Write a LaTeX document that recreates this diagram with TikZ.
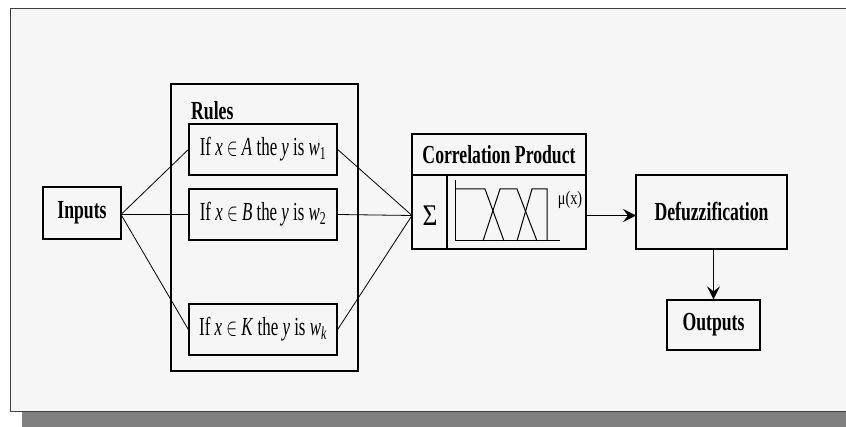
\documentclass[tikz,border=0pt]{standalone}
\usepackage{fontspec}
\setmainfont{Liberation Serif}
\usetikzlibrary{arrows.meta}
\newcommand\blab[1]{\scalebox{0.68}[1]{\fontsize{26}{30}\selectfont\bfseries #1}}
\newcommand\rlab[3]{\scalebox{0.65}[1]{\fontsize{26}{30}\selectfont If \textit{x} $\in$ \textit{#1} the \textit{y} is \textit{w}\textsubscript{#2}#3}}
\begin{document}
\begin{tikzpicture}[x=1pt,y=-1pt,
  box/.style={draw=black, line width=1.3pt, inner sep=0pt, anchor=center},
  conn/.style={draw=black, line width=0.8pt},
  arr/.style={draw=black, line width=1.3pt, -{Stealth[length=13pt,width=13pt,inset=5pt]}},
  mf/.style={draw=black, line width=1pt}]
\useasboundingbox (0,0) rectangle (846,427);
% frame and shadow
\fill[gray] (22,412) rectangle (850,427);
\draw[draw=black!75, line width=1pt, fill=gray!7] (10,9) rectangle (860,412);
% nodes
\node[box, minimum width=78pt, minimum height=52pt] (inputs) at (82,213) {\blab{Inputs}};
\node[box, minimum width=187pt, minimum height=287pt] (rules) at (264.5,227.5) {};
\node[anchor=west, inner sep=0pt] (ruleslab) at (191,111) {\blab{Rules}};
\node[box, minimum width=148pt, minimum height=51pt] (ra) at (263,149.5) {\rlab{A}{1}{}};
\node[box, minimum width=148pt, minimum height=51pt] (rb) at (263,214.5) {\rlab{B}{2}{}};
\node[box, minimum width=148pt, minimum height=51pt] (rk) at (263,329.5) {\rlab{K}{\textit{k}}{}};
\node[box, minimum width=174pt, minimum height=115pt] (corr) at (499,191.5) {};
\node[inner sep=0pt] (corrlab) at (499,155) {\blab{Correlation Product}};
\draw[line width=1.3pt] (corr.west |- 0,175) -- (corr.east |- 0,175);
\draw[line width=1.3pt] (447,175) -- (447,249);
\node[inner sep=0pt] (sigma) at (430,216) {\scalebox{0.85}[1]{\fontsize{30}{34}\selectfont Σ}};
\node[inner sep=0pt] (mu) at (570,200) {\scalebox{0.75}[1]{\fontsize{19}{22}\selectfont μ(x)}};
% membership functions
\draw[mf] (455,180) -- (455,241) -- (560,241);
\draw[mf] (455,189) -- (485,189) -- (504,241);
\draw[mf] (483,241) -- (500,189) -- (517,189) -- (537,241);
\draw[mf] (517,241) -- (532,189) -- (547,189) -- (547,241);
\node[box, minimum width=151pt, minimum height=74pt] (defuzz) at (711.5,212) {\blab{Defuzzification}};
\node[box, minimum width=93pt, minimum height=50pt] (outputs) at (713.5,325) {\blab{Outputs}};
% connectors
\coordinate (in) at (121,214.5);
\coordinate (j) at (412,215.5);
\draw[conn] (in) -- (ra.west);
\draw[conn] (in) -- (rb.west);
\draw[conn] (in) -- (rk.west);
\draw[conn] (ra.east) -- (j);
\draw[conn] (rb.east) -- (j);
\draw[conn] (rk.east) -- (j);
\coordinate (co) at (586,215.5);
\coordinate (di) at (636,215.5);
\draw[arr] (co) -- (di);
\draw[arr] (outputs.north |- defuzz.south) -- (outputs.north);
\end{tikzpicture}
\end{document}
